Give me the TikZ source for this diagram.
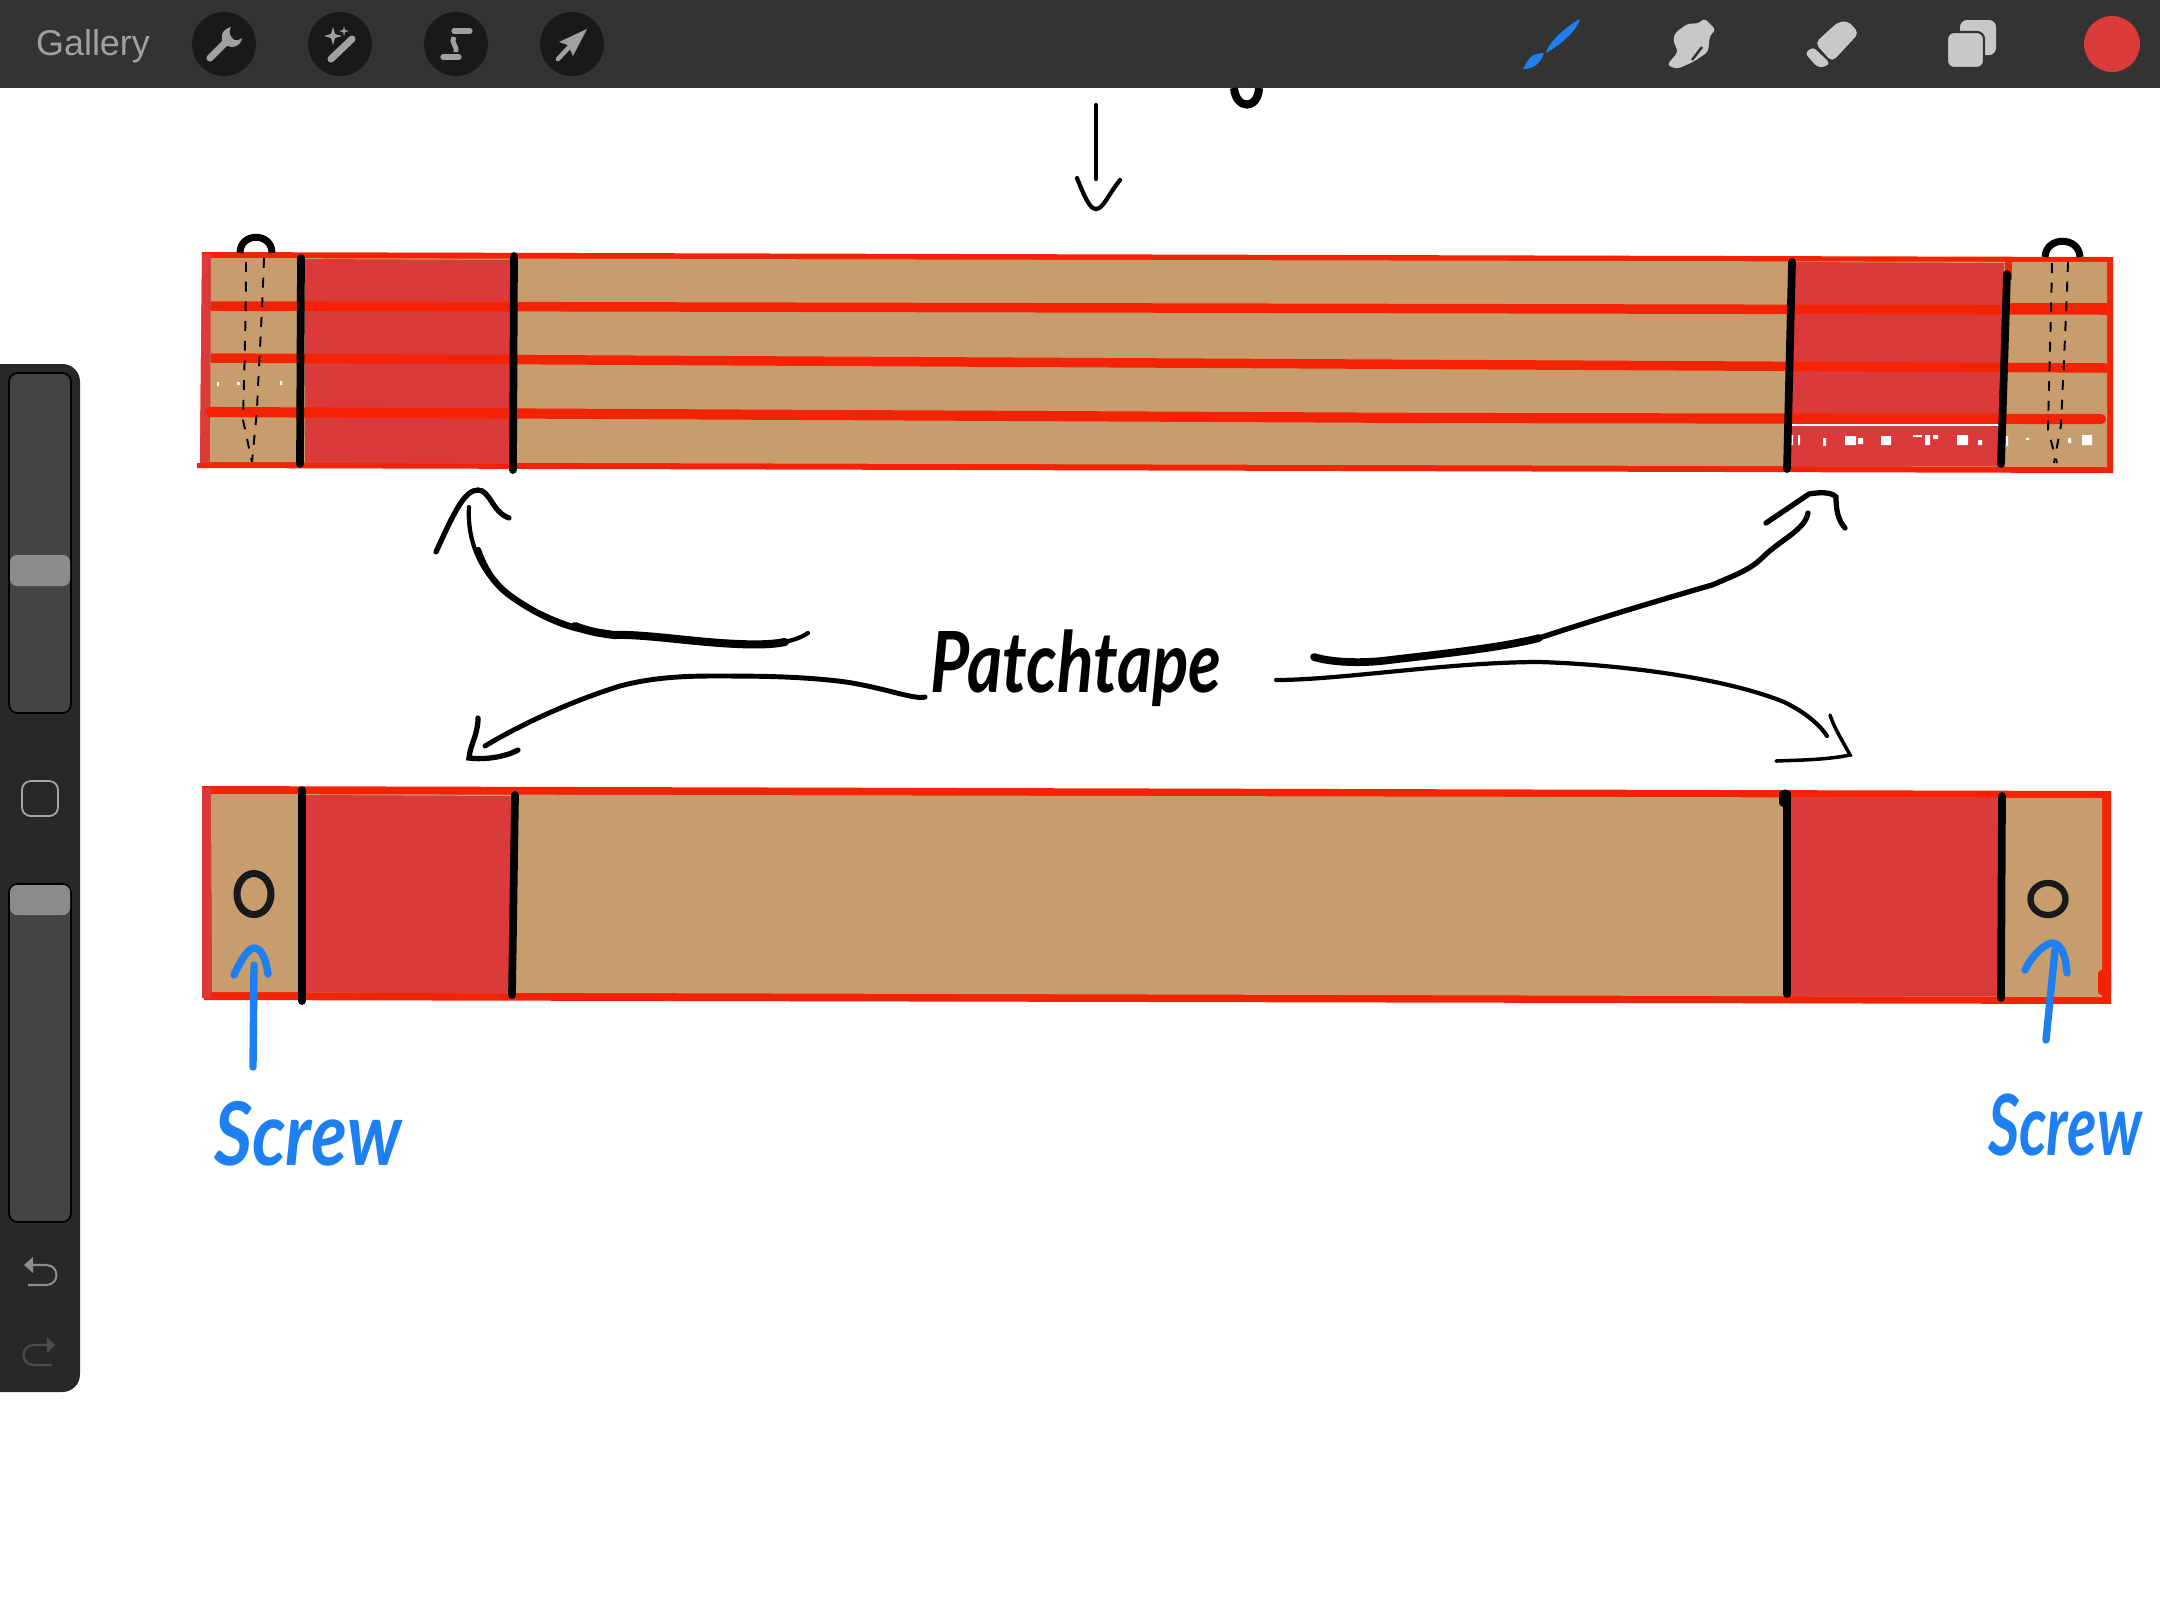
\documentclass[tikz,border=0pt]{standalone}
\usepackage{fontspec}
\setmainfont{Liberation Sans}
\newfontfamily\handfont{Lato}
\usetikzlibrary{shapes.geometric}
\definecolor{tanwood}{HTML}{C89D6E}
\definecolor{patchred}{HTML}{DB3A3A}
\definecolor{tapered}{HTML}{F52306}
\definecolor{penblue}{HTML}{1E7FF0}
\definecolor{barcol}{HTML}{333333}
\definecolor{sidecol}{HTML}{282828}
\definecolor{slidecol}{HTML}{444444}
\definecolor{iconcol}{HTML}{A0A0A0}
\definecolor{toolcol}{HTML}{C8C8C8}

\begin{document}
\begin{tikzpicture}[
  x=0.01cm,y=-0.01cm,
  iconbtn/.style={circle,fill=black!90,minimum size=0.64cm,inner sep=0pt},
  hole/.style={draw=black!90,ellipse,line width=2pt,inner sep=0pt},
  stripe/.style={tapered,line width=2.7pt},
  divider/.style={black,line width=2.2pt,line cap=round},
  pin/.style={black,line width=0.55pt,dash pattern=on 2.8pt off 2.8pt},
  loopwire/.style={black,line width=2pt},
  inkline/.style={black,line width=1.2pt,line cap=round},
  inkfat/.style={black,line width=2.3pt,line cap=round},
  bluepen/.style={penblue,line width=2.1pt,line cap=round,line join=round},
  slider/.style={fill=slidecol,draw=black,line width=0.5pt,rounded corners=2.5pt},
  thumb/.style={fill=black!45,rounded corners=2pt},
  screwtext/.style={penblue,inner sep=0pt,transform shape},
  handtext/.style={black,font=\handfont\bfseries\itshape\fontsize{24}{26}\selectfont,xscale=0.8,transform shape,inner sep=0pt}
]
\useasboundingbox (0,0) rectangle (2160,1620);

% Toolbar across the top, left group then right group.
\fill[barcol] (0,0) rectangle (2160,88);
\node[text=iconcol,font=\fontsize{10.2}{12}\selectfont] (gallery) at (93,46) {Gallery};
\node[iconbtn] (wrenchbtn) at (224,44) {};
\node[iconbtn] (wandbtn) at (340,44) {};
\node[iconbtn] (selectbtn) at (456,44) {};
\node[iconbtn] (movebtn) at (572,44) {};
% wrench
\draw[iconcol,line width=2pt,line cap=round] (210,58) -- (226,42);
\fill[iconcol] (231,27) .. controls (222,29) and (219,38) .. (224,44) .. controls (232,50) and (241,46) .. (242,38) .. controls (238,41) and (234,41) .. (232,38) .. controls (229,34) and (229,30) .. (231,27);
% wand
\fill[iconcol] (333,27) -- (335,34) -- (342,36) -- (335,38) -- (333,45) -- (331,38) -- (324,36) -- (331,34) -- cycle;
\fill[iconcol] (344,26) -- (345,30) -- (349,31) -- (345,32) -- (344,36) -- (343,32) -- (339,31) -- (343,30) -- cycle;
\draw[iconcol,line width=2pt,line cap=round] (331,59) -- (352,39);
% selection
\draw[iconcol,line width=1.5pt,line cap=round] (454,31) -- (470,31);
\draw[iconcol,line width=1.5pt,line cap=round] (443,57) -- (459,57);
\draw[iconcol,line width=1.4pt] (454,37) .. controls (450,42) and (458,47) .. (456,52);
% move arrow
\fill[iconcol] (587,29) -- (559,42) -- (568,45) -- (573,56) -- cycle;
\draw[iconcol,line width=1.3pt,line cap=round] (558,59) -- (572,44);
% brush
\fill[penblue] (1580,19) .. controls (1577,30) and (1562,44) .. (1546,53) .. controls (1548,43) and (1565,27) .. (1580,19);
\fill[penblue] (1544,53) .. controls (1541,62) and (1535,69) .. (1523,69) .. controls (1528,60) and (1530,53) .. (1544,53);
% smudge
\fill[toolcol,rounded corners=1pt] (1675,33) -- (1687,24) -- (1700,23) -- (1704,18) -- (1716,30) -- (1710,35) -- (1708,52) -- (1693,62) -- (1677,69) -- (1667,65) -- (1678,52) -- (1673,40) -- cycle;
\draw[barcol,line width=0.7pt] (1692,60) -- (1702,47);
% eraser
\fill[toolcol,rounded corners=1.5pt] (1815,43) -- (1838,22) -- (1848,21) -- (1859,33) -- (1832,62) -- cycle;
\fill[toolcol,rounded corners=1pt] (1805,53) -- (1813,47) -- (1830,63) -- (1825,67) -- (1817,67) -- cycle;
% layers
\fill[toolcol,rounded corners=2pt] (1960,20) rectangle (1996,55);
\filldraw[fill=toolcol,draw=barcol,line width=0.6pt,rounded corners=2pt] (1947,32) rectangle (1984,68);
\node[circle,fill=patchred,minimum size=0.56cm,inner sep=0pt] (swatch) at (2112,44) {};

% Side panel with the two sliders.
\fill[sidecol,rounded corners=5pt] (0,364) -- (80,364) -- (80,1392) -- (0,1392);
\draw[slider] (9,373) rectangle (71,713);
\fill[thumb] (10,555) rectangle (70,586);
\draw[black!35,line width=0.5pt,rounded corners=2.5pt] (22,781) rectangle (58,816);
\draw[slider] (9,884) rectangle (71,1222);
\fill[thumb] (10,885) rectangle (70,915);
\fill[black!45] (24,1265) -- (33,1257) -- (33,1273) -- cycle;
\draw[black!45,line width=0.6pt] (33,1265) -- (46,1265) .. controls (60,1265) and (60,1285) .. (46,1285) -- (28,1285);
\fill[black!70] (55,1345) -- (47,1337) -- (47,1353) -- cycle;
\draw[black!70,line width=0.6pt] (47,1345) -- (34,1345) .. controls (20,1345) and (20,1365) .. (34,1365) -- (52,1365);

% Marks at the very top of the drawing.
\draw[black,line width=2.3pt] (1234,88) .. controls (1236,110) and (1258,110) .. (1259,88);
\coordinate (topfrom) at (1096,105);
\coordinate (topto) at (1096,179);
\draw[inkline] (topfrom) -- (topto);
\draw[black,line width=1.2pt,line cap=round] (1077,178) .. controls (1085,198) and (1090,209) .. (1096,209) .. controls (1103,209) and (1108,195) .. (1120,180);

% Top bar, four strips of wood with tape between them.
\fill[tapered] (202,252) -- (2113,257) -- (2113,473) -- (197,468) -- (197,463) -- (200,463) -- cycle;
\fill[patchred] (202,254) -- (212,254) -- (210,463) -- (200,463) -- cycle;
\fill[tanwood] (211,258) -- (2107,262) -- (2107,467) -- (210,462) -- cycle;
\fill[patchred] (305,259) -- (513,260) -- (513,464) -- (305,463) -- cycle;
\fill[patchred] (1790,262) -- (2004,263) -- (2000,466) -- (1790,466) -- cycle;
\fill[tapered] (2005,258) rectangle (2012,280);
\draw[stripe] (211,306) -- (2107,310);
\fill[tapered] (2005,303) rectangle (2107,314);
\draw[stripe] (211,358) -- (2107,368);
\draw[stripe,line width=2.9pt,line cap=round] (211,412) -- (1440,418) -- (2101,419);
\draw[white,line width=0.4pt] (1791,425) -- (2000,425);
\fill[white] (1791,435) rectangle (1793,445) (1798,435) rectangle (1800,445) (1823,438) rectangle (1826,446)
  (1845,436) rectangle (1856,445) (1858,438) rectangle (1863,444) (1881,436) rectangle (1891,445)
  (1913,435) rectangle (1922,437) (1925,435) rectangle (1930,445) (1933,435) rectangle (1938,439)
  (1957,435) rectangle (1968,445) (1978,440) rectangle (1982,445) (2006,436) rectangle (2008,446)
  (2026,438) rectangle (2029,440) (2068,438) rectangle (2071,443) (2082,435) rectangle (2092,445)
  (217,382) rectangle (219,386) (237,382) rectangle (240,385) (280,381) rectangle (282,385);
\draw[divider] (301,258) -- (300,464);
\draw[divider] (514,256) -- (513,470);
\draw[divider] (1792,262) -- (1787,469);
\draw[divider] (2007,274) -- (2001,464);
% screws, drawn through the bar
\draw[loopwire] (240,253) .. controls (240,232) and (272,232) .. (272,253);
\draw[pin] (246,262) .. controls (246,320) and (244,380) .. (243,420) -- (252,462);
\draw[pin] (264,258) .. controls (262,320) and (258,380) .. (257,410) -- (252,462);
\draw[loopwire] (2045,257) .. controls (2046,236) and (2079,236) .. (2080,257);
\draw[pin] (2052,263) .. controls (2051,320) and (2049,380) .. (2048,430) -- (2057,463);
\draw[pin] (2068,262) .. controls (2066,320) and (2063,380) .. (2061,425) -- (2054,463);

% Bottom bar.
\fill[tapered] (202,786) -- (2111,791) -- (2111,1004) -- (204,1000) -- cycle;
\fill[patchred] (202,788) rectangle (211,998);
\fill[tanwood] (211,794) -- (2102,798) -- (2102,997) -- (212,992) -- cycle;
\fill[patchred] (306,795) -- (512,796) -- (511,994) -- (306,992) -- cycle;
\fill[patchred] (1790,797) -- (2000,798) -- (2000,996) -- (1790,996) -- cycle;
\fill[tapered,rounded corners=1pt] (2098,970) rectangle (2111,995);
\draw[divider] (302,790) -- (302,1001);
\draw[divider] (515,795) -- (512,995);
\draw[divider] (1787,794) -- (1787,994);
\draw[divider,line width=3.2pt] (1785,795) -- (1785,802);
\draw[divider] (2002,796) -- (2001,998);
\node[hole,minimum width=0.34cm,minimum height=0.41cm] (holeleft) at (254,894) {};
\node[hole,line width=1.8pt,minimum width=0.35cm,minimum height=0.32cm] (holeright) at (2048,899) {};

% Hand written label with its four arrows.
\node[handtext] (patchlabel) at (1076,668) {Patchtape};
\coordinate (fromUL) at (808,633);
\coordinate (toUL) at (469,507);
\coordinate (fromLL) at (925,697);
\coordinate (toLL) at (485,746);
\coordinate (fromUR) at (1314,657);
\coordinate (toUR) at (1808,513);
\coordinate (fromLR) at (1276,680);
\coordinate (toLR) at (1827,736);
\draw[inkline] (fromUL) .. controls (790,645) and (760,646) .. (720,643) .. controls (680,640) and (640,634) .. (614,635) .. controls (570,630) and (530,610) .. (512,597) .. controls (480,575) and (467,540) .. (toUL);
\draw[inkline,line width=1.8pt] (585,630) .. controls (560,626) and (530,610) .. (512,597) .. controls (495,585) and (485,570) .. (478,550);
\draw[inkfat] (785,642) .. controls (770,645) and (750,645) .. (720,643) .. controls (680,640) and (640,634) .. (614,635) .. controls (600,633) and (590,632) .. (575,626);
\draw[inkline,line width=1.5pt] (436,552) .. controls (455,510) and (465,490) .. (478,490) .. controls (490,490) and (492,512) .. (509,518);
\draw[inkline,line width=1.4pt] (fromLL) .. controls (915,700) and (885,688) .. (846,682) .. controls (800,676) and (755,676) .. (712,676) .. controls (680,676) and (650,678) .. (620,686) .. controls (575,700) and (525,722) .. (toLL);
\draw[inkline,line width=1.5pt] (478,718) .. controls (478,735) and (470,745) .. (469,758) .. controls (485,760) and (505,757) .. (518,750);
\draw[inkline,line width=1.5pt] (fromUR) .. controls (1330,662) and (1360,664) .. (1390,660) .. controls (1440,654) and (1500,648) .. (1539,638) .. controls (1600,618) and (1660,600) .. (1712,585) .. controls (1735,575) and (1750,570) .. (1763,557) .. controls (1780,540) and (1805,530) .. (toUR);
\draw[inkline,line width=2.2pt] (fromUR) .. controls (1330,662) and (1360,664) .. (1390,660) .. controls (1440,654) and (1500,648) .. (1539,638);
\draw[inkline,line width=1.5pt] (1766,523) -- (1809,494) .. controls (1820,492) and (1832,492) .. (1836,497) .. controls (1836,510) and (1838,520) .. (1845,528);
\draw[inkline] (fromLR) .. controls (1340,680) and (1450,662) .. (1539,662) .. controls (1610,664) and (1720,676) .. (1784,702) .. controls (1805,712) and (1820,725) .. (toLR);
\draw[inkline,line width=1pt] (1830,715) .. controls (1835,730) and (1845,745) .. (1850,755) .. controls (1825,760) and (1800,760) .. (1776,761);

% Blue notes pointing at the screw holes.
\node[screwtext,font=\handfont\bfseries\itshape\fontsize{25}{26}\selectfont,xscale=0.84] (screwleft) at (308,1134) {Screw};
\node[screwtext,font=\handfont\bfseries\itshape\fontsize{24}{25}\selectfont,xscale=0.72] (screwright) at (2065,1125) {Screw};
\coordinate (penleft) at (253,1067);
\coordinate (penlefttip) at (254,965);
\coordinate (penright) at (2046,1040);
\coordinate (penrighttip) at (2055,950);
\draw[bluepen] (penleft) -- (penlefttip);
\draw[bluepen] (234,975) .. controls (240,962) and (248,948) .. (254,948) .. controls (262,948) and (266,960) .. (268,974);
\draw[bluepen] (penright) -- (penrighttip);
\draw[bluepen] (2025,970) .. controls (2032,955) and (2045,943) .. (2053,943) .. controls (2062,944) and (2066,958) .. (2067,973);
\end{tikzpicture}
\end{document}
